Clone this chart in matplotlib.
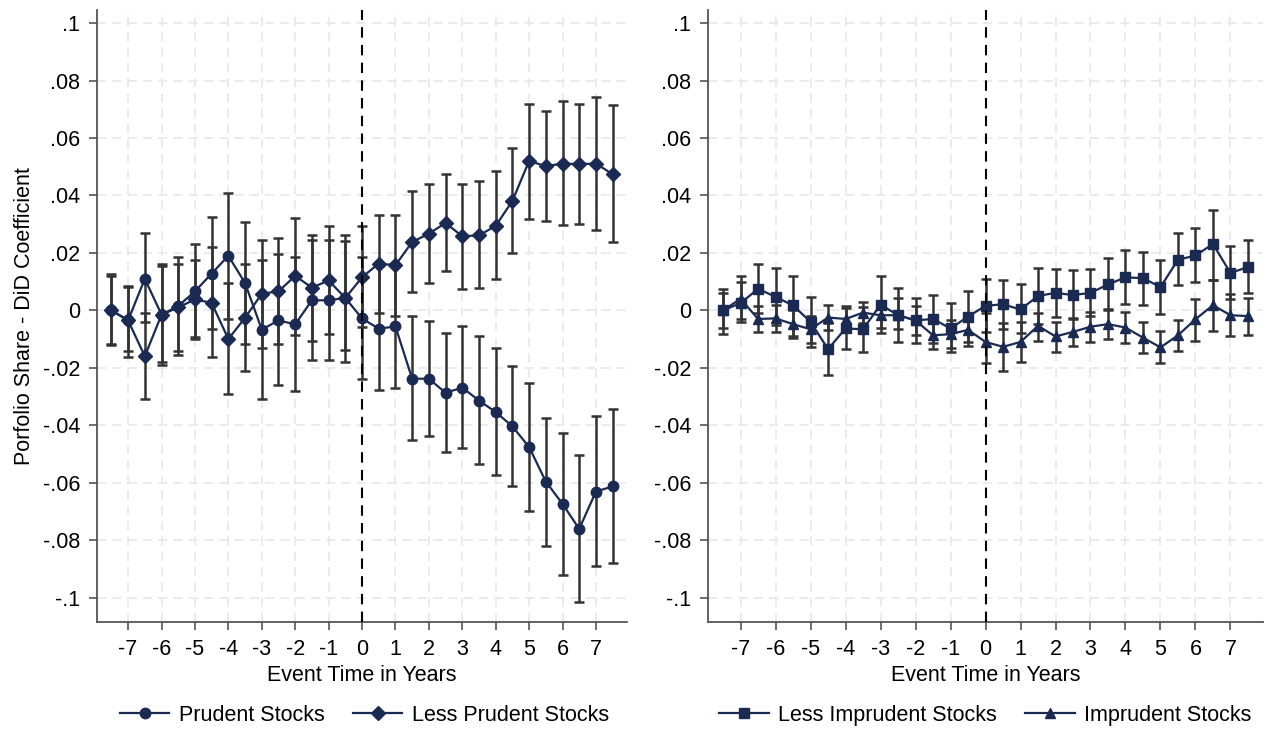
import numpy as np
import matplotlib.pyplot as plt

plt.rcParams['font.family'] = ['Liberation Sans', 'DejaVu Sans']

# event time (years), half-year steps
event_time = [-7.5, -7, -6.5, -6, -5.5, -5, -4.5, -4, -3.5, -3, -2.5, -2, -1.5, -1, -0.5,
              0, 0.5, 1, 1.5, 2, 2.5, 3, 3.5, 4, 4.5, 5, 5.5, 6, 6.5, 7, 7.5]

# left panel: prudent stocks
prudent = [0, -0.0035, 0.011, -0.0015, 0.0015, 0.0066, 0.0128, 0.019, 0.0095, -0.0067,
           -0.0035, -0.0049, 0.0035, 0.0035, 0.0043, -0.0028, -0.0064, -0.0056, -0.0238,
           -0.0238, -0.0287, -0.0269, -0.0314, -0.0354, -0.0404, -0.0476, -0.0596, -0.0674,
           -0.0761, -0.0631, -0.0613]
prudent_lo = [-0.0122, -0.014, -0.004, -0.018, -0.0155, -0.0099, -0.0066, -0.003, -0.0116,
              -0.031, -0.026, -0.028, -0.0174, -0.0174, -0.018, -0.024, -0.0279, -0.027,
              -0.045, -0.0439, -0.0494, -0.048, -0.0534, -0.0575, -0.0613, -0.0697, -0.0819,
              -0.0921, -0.1014, -0.0891, -0.088]
prudent_hi = [0.0125, 0.0085, 0.027, 0.0155, 0.0185, 0.023, 0.0325, 0.0407, 0.0308, 0.0177,
              0.0195, 0.0186, 0.0244, 0.0246, 0.0264, 0.0186, 0.0155, 0.016, -0.0021, -0.0037,
              -0.0079, -0.0056, -0.009, -0.0131, -0.0193, -0.0253, -0.0374, -0.0426, -0.0503,
              -0.0369, -0.0345]

less_prudent = [0, -0.0035, -0.016, -0.0015, 0.001, 0.0038, 0.0026, -0.010, -0.0026, 0.0058,
                0.0066, 0.012, 0.0079, 0.0104, 0.0043, 0.0115, 0.0163, 0.0157, 0.0238, 0.0267,
                0.0304, 0.0258, 0.0261, 0.0294, 0.0381, 0.052, 0.0502, 0.0511, 0.0509, 0.0511,
                0.0474]
less_prudent_lo = [-0.0116, -0.0163, -0.031, -0.019, -0.014, -0.0093, -0.0163, -0.029, -0.021,
                   -0.013, -0.0118, -0.0085, -0.0105, -0.0081, -0.0137, -0.0058, -0.0008,
                   -0.002, 0.0064, 0.0095, 0.0136, 0.0075, 0.0078, 0.0108, 0.020, 0.0319,
                   0.031, 0.0296, 0.0302, 0.0281, 0.0238]
less_prudent_hi = [0.0118, 0.008, -0.001, 0.016, 0.016, 0.0174, 0.022, 0.0095, 0.016, 0.0246,
                   0.0253, 0.032, 0.0264, 0.0294, 0.0242, 0.0294, 0.0333, 0.0333, 0.0415,
                   0.0439, 0.0476, 0.0441, 0.0449, 0.0484, 0.0567, 0.072, 0.0695, 0.0728,
                   0.0717, 0.0743, 0.0714]

# right panel: imprudent stocks
less_imprudent = [0, 0.0025, 0.0075, 0.0047, 0.0017, -0.004, -0.0135, -0.0063, -0.0066, 0.002,
                  -0.0017, -0.0035, -0.003, -0.0063, -0.0022, 0.0016, 0.0021, 0.0003, 0.005,
                  0.0061, 0.0053, 0.0061, 0.009, 0.0115, 0.0112, 0.0081, 0.0176, 0.0191,
                  0.0231, 0.013, 0.0151]
less_imprudent_lo = [-0.0083, -0.004, -0.001, -0.005, -0.0089, -0.0129, -0.0225, -0.0135,
                     -0.0144, -0.008, -0.011, -0.0114, -0.0115, -0.0146, -0.011, -0.0075,
                     -0.0064, -0.008, -0.0046, -0.0023, -0.003, -0.002, 0.0, 0.0023, 0.002,
                     -0.0014, 0.0087, 0.0098, 0.0107, 0.0038, 0.0061]
less_imprudent_hi = [0.0075, 0.012, 0.016, 0.0146, 0.0121, 0.0047, -0.0045, 0.0009, 0.0012,
                     0.0121, 0.0078, 0.0044, 0.0055, 0.0027, 0.0067, 0.011, 0.0105, 0.0092,
                     0.0146, 0.0145, 0.014, 0.0145, 0.0182, 0.0209, 0.0204, 0.0174, 0.0269,
                     0.0285, 0.035, 0.0225, 0.0246]

imprudent = [0, 0.004, -0.003, -0.0028, -0.0048, -0.0066, -0.0025, -0.003, -0.0008, -0.0017,
             -0.0017, -0.0035, -0.0087, -0.0083, -0.0068, -0.011, -0.0127, -0.011, -0.0054,
             -0.0091, -0.0075, -0.0057, -0.0048, -0.006, -0.0095, -0.0129, -0.0087, -0.0031,
             0.0018, -0.0017, -0.002]
imprudent_lo = [-0.0063, -0.003, -0.0075, -0.0075, -0.0098, -0.0112, -0.0067, -0.007, -0.0045,
                -0.0063, -0.0065, -0.0085, -0.0135, -0.013, -0.0123, -0.0183, -0.021, -0.0179,
                -0.0106, -0.0146, -0.0123, -0.011, -0.01, -0.0114, -0.015, -0.0185, -0.0143,
                -0.0106, -0.0072, -0.0091, -0.0085]
imprudent_hi = [0.0061, 0.010, 0.0015, 0.002, 0.000, -0.002, 0.0017, 0.0015, 0.0029, 0.003,
                0.0044, 0.0015, -0.004, -0.0035, -0.0013, -0.001, -0.0043, -0.004, -0.0008,
                -0.004, -0.0028, -0.0005, 0.0006, -0.0007, -0.004, -0.0072, -0.0033, 0.0038,
                0.0107, 0.0058, 0.0044]

x_ticks = [-7, -6, -5, -4, -3, -2, -1, 0, 1, 2, 3, 4, 5, 6, 7]
y_ticks = [0.1, 0.08, 0.06, 0.04, 0.02, 0, -0.02, -0.04, -0.06, -0.08, -0.1]
y_tick_labels = ['.1', '.08', '.06', '.04', '.02', '0', '-.02', '-.04', '-.06', '-.08', '-.1']

NAVY = '#1b2a52'
BAR = '#333333'
GRID = '#e6e6e6'
FS = 15.5


def draw_series(ax, y, lo, hi, marker, label, ms):
    x = np.array(event_time)
    y = np.array(y)
    err = [y - np.array(lo), np.array(hi) - y]
    ax.errorbar(x, y, yerr=err, fmt='none', ecolor=BAR, elinewidth=1.8,
                capsize=3.5, capthick=1.8, zorder=2)
    ax.plot(x, y, color=NAVY, lw=1.6, marker=marker, ms=ms, mfc=NAVY, mec=NAVY,
            label=label, zorder=3)


def style_axes(ax):
    ax.set_xlim(-7.93, 7.93)
    ax.set_ylim(-0.1085, 0.1045)
    ax.set_xticks(x_ticks)
    ax.set_xticklabels([str(t) for t in x_ticks])
    ax.set_yticks(y_ticks)
    ax.set_yticklabels(y_tick_labels)
    # grid: horizontal at y ticks, vertical at every year except the event line
    ax.grid(True, axis='y', color=GRID, linestyle=(0, (6, 4)), lw=1.1, zorder=0)
    for t in x_ticks:
        if t != 0:
            ax.axvline(t, color=GRID, linestyle=(0, (6, 4)), lw=1.1, zorder=0)
    ax.axvline(0, color='black', lw=1.5, linestyle=(0, (5, 3.5)), zorder=4)
    for s in ['top', 'right']:
        ax.spines[s].set_visible(False)
    for s in ['left', 'bottom']:
        ax.spines[s].set_color('#555555')
        ax.spines[s].set_linewidth(1.3)
    ax.tick_params(axis='both', labelsize=FS, length=6, width=1.2, color='#555555', pad=6)
    ax.set_xlabel('Event Time in Years', fontsize=FS, labelpad=4)


fig = plt.figure(figsize=(12.7, 7.3), dpi=100)
ax1 = fig.add_axes([0.0764, 0.148, 0.4173, 0.838])
ax2 = fig.add_axes([0.5575, 0.148, 0.437, 0.838])

draw_series(ax1, prudent, prudent_lo, prudent_hi, 'o', 'Prudent Stocks', 7.5)
draw_series(ax1, less_prudent, less_prudent_lo, less_prudent_hi, 'D', 'Less Prudent Stocks', 6.8)
style_axes(ax1)
ax1.set_ylabel('Porfolio Share - DiD Coefficient', fontsize=FS, labelpad=6)

draw_series(ax2, less_imprudent, less_imprudent_lo, less_imprudent_hi, 's', 'Less Imprudent Stocks', 7.2)
draw_series(ax2, imprudent, imprudent_lo, imprudent_hi, '^', 'Imprudent Stocks', 7.5)
style_axes(ax2)

for ax, xc in [(ax1, 0.287), (ax2, 0.776)]:
    ax.legend(loc='center', bbox_to_anchor=(xc, 0.02), bbox_transform=fig.transFigure,
              ncol=2, frameon=False, fontsize=FS, handlelength=2.3, handletextpad=0.45,
              columnspacing=1.3)

fig.savefig('out.png', dpi=100)
